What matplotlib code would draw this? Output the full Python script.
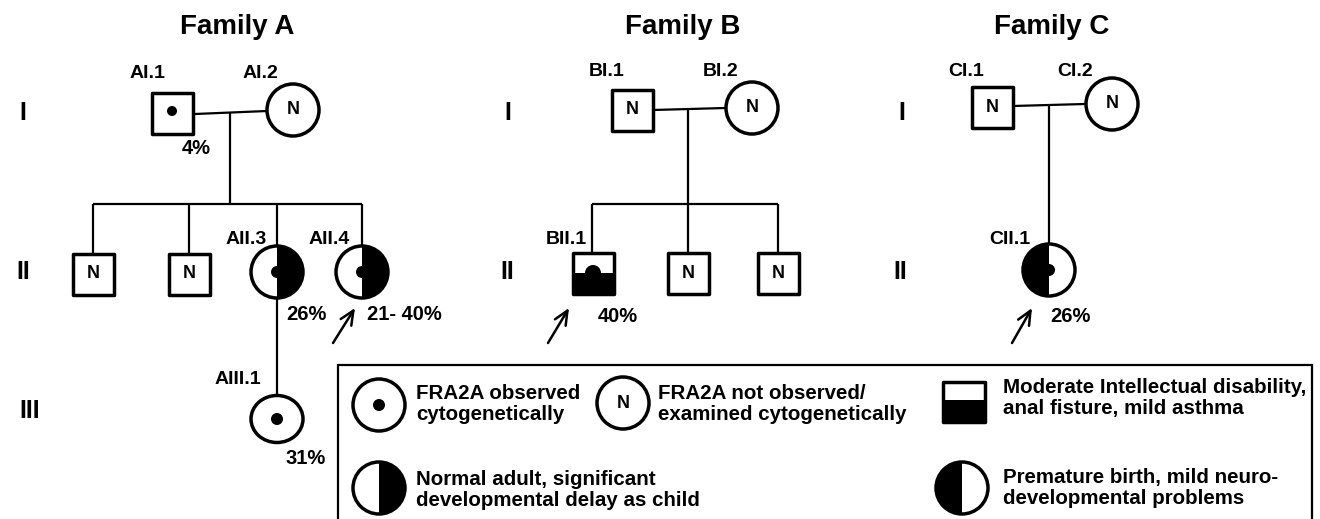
import matplotlib.pyplot as plt
from matplotlib.patches import Rectangle, Circle, Wedge, Ellipse

plt.rcParams['font.family'] = ['Liberation Sans', 'DejaVu Sans']
plt.rcParams['font.weight'] = 'bold'

# pedigree data
families = ["Family A", "Family B", "Family C"]
ids = ["AI.1", "AI.2", "AII.1", "AII.2", "AII.3", "AII.4", "AIII.1",
       "BI.1", "BI.2", "BII.1", "BII.2", "BII.3",
       "CI.1", "CI.2", "CII.1"]
sex = ["M", "F", "M", "M", "F", "F", "F",
       "M", "F", "M", "M", "M",
       "M", "F", "F"]
# fra = FRA2A observed, N = not observed / not examined
fra2a = ["fra", "N", "N", "N", "fra", "fra", "fra",
         "N", "N", "fra", "N", "N",
         "N", "N", "fra"]
# phenotype: none, delay (right half), premature (left half), id (lower fill)
phenotype = ["none", "none", "none", "none", "delay", "delay", "none",
             "none", "none", "id", "none", "none",
             "none", "none", "premature"]
fra2a_pct = ["4%", "", "", "", "26%", "21- 40%", "31%",
             "", "", "40%", "", "",
             "", "", "26%"]
show_id = ["AI.1", "AI.2", "AII.3", "AII.4", "AIII.1", "BI.1", "BI.2", "BII.1",
           "CI.1", "CI.2", "CII.1"]
probands = ["AII.4", "BII.1", "CII.1"]

legend_items = [
    ("fra", "FRA2A observed\ncytogenetically"),
    ("N", "FRA2A not observed/\nexamined cytogenetically"),
    ("id", "Moderate Intellectual disability,\nanal fisture, mild asthma"),
    ("delay", "Normal adult, significant\ndevelopmental delay as child"),
    ("premature", "Premature birth, mild neuro-\ndevelopmental problems"),
]

# layout (pixel coordinates of the drawing)
pos = {
    "AI.1": (172, 113), "AI.2": (293, 110),
    "AII.1": (93, 274), "AII.2": (189, 274), "AII.3": (277, 272), "AII.4": (362, 272),
    "AIII.1": (277, 419),
    "BI.1": (632, 110), "BI.2": (752, 108),
    "BII.1": (593, 273), "BII.2": (688, 273), "BII.3": (778, 273),
    "CI.1": (992, 107), "CI.2": (1112, 104),
    "CII.1": (1049, 270),
}
id_pos = {
    "AI.1": (165, 73), "AI.2": (278, 73), "AII.3": (267, 240), "AII.4": (350, 240),
    "AIII.1": (261, 380), "BI.1": (624, 72), "BI.2": (738, 72), "BII.1": (587, 240),
    "CI.1": (984, 72), "CI.2": (1093, 72), "CII.1": (1030, 240),
}
pct_pos = {
    "AI.1": (182, 148), "AII.3": (286, 315), "AII.4": (367, 315), "AIII.1": (285, 458),
    "BII.1": (598, 316), "CII.1": (1050, 316),
}
arrow_pos = {
    "AII.4": ((333, 343), (355, 308)),
    "BII.1": ((548, 343), (569, 308)),
    "CII.1": ((1012, 343), (1032, 308)),
}
title_pos = [(237, 27), (683, 27), (1052, 27)]
gen_labels = [("I", 23, 113), ("II", 23, 272), ("III", 30, 411),
              ("I", 508, 113), ("II", 507, 272),
              ("I", 902, 113), ("II", 900, 272)]
lines = [
    [(195, 114), (267, 111)], [(230, 112), (230, 204)], [(93, 204), (362, 204)],
    [(93, 204), (93, 254)], [(189, 204), (189, 254)], [(277, 204), (277, 245)],
    [(362, 204), (362, 245)], [(277, 299), (277, 396)],
    [(653, 110), (725, 108)], [(688, 109), (688, 204)], [(592, 204), (778, 204)],
    [(592, 204), (592, 252)], [(688, 204), (688, 252)], [(778, 204), (778, 252)],
    [(1013, 106), (1085, 104)], [(1049, 105), (1049, 244)],
]

SQ = 41
R = 26
LW = 2.5


def draw_symbol(ax, x, y, s, status, pheno, ellipse_h=None):
    if s == "M":
        ax.add_patch(Rectangle((x - SQ / 2, y - SQ / 2), SQ, SQ, fc='white', ec='none', zorder=3))
        if pheno == "id":
            ax.add_patch(Rectangle((x - SQ / 2, y), SQ, SQ / 2, fc='black', ec='none', zorder=4))
            ax.add_patch(Circle((x, y), 8, fc='black', ec='none', zorder=4))
        elif status == "fra":
            ax.add_patch(Circle((x, y - 2), 5, fc='black', ec='none', zorder=4))
        ax.add_patch(Rectangle((x - SQ / 2, y - SQ / 2), SQ, SQ, fc='none', ec='black',
                               lw=LW, joinstyle='round', zorder=5))
    else:
        h = ellipse_h if ellipse_h else 2 * R
        ax.add_patch(Ellipse((x, y), 2 * R, h, fc='white', ec='none', zorder=3))
        if pheno == "delay":
            ax.add_patch(Wedge((x, y), R, -90, 90, fc='black', ec='none', zorder=4))
        elif pheno == "premature":
            ax.add_patch(Wedge((x, y), R, 90, 270, fc='black', ec='none', zorder=4))
        if status == "fra":
            ax.add_patch(Circle((x, y), 6, fc='black', ec='none', zorder=4))
        ax.add_patch(Ellipse((x, y), 2 * R, h, fc='none', ec='black', lw=LW, zorder=5))
    if status == "N" and pheno == "none":
        ax.text(x, y, "N", ha='center', va='center', fontsize=13, zorder=6)


fig = plt.figure(figsize=(13.2, 5.19), dpi=100)
ax = fig.add_axes([0, 0, 1, 1])
ax.set_xlim(0, 1320)
ax.set_ylim(519, 0)
ax.axis('off')

for name, (tx, ty) in zip(families, title_pos):
    ax.text(tx, ty, name, ha='center', va='center', fontsize=20)

for lab, gx, gy in gen_labels:
    ax.text(gx, gy, lab, ha='center', va='center', fontsize=18)

for seg in lines:
    (x0, y0), (x1, y1) = seg
    ax.plot([x0, x1], [y0, y1], color='black', lw=1.6, solid_capstyle='butt', zorder=2)

for i, pid in enumerate(ids):
    x, y = pos[pid]
    draw_symbol(ax, x, y, sex[i], fra2a[i], phenotype[i],
                ellipse_h=47 if pid == "AIII.1" else None)
    if pid in show_id:
        lx, ly = id_pos[pid]
        ax.text(lx, ly, pid, ha='right', va='center', fontsize=14)
    if fra2a_pct[i]:
        px, py = pct_pos[pid]
        ax.text(px, py, fra2a_pct[i], ha='left', va='center', fontsize=14.5)

for pid in probands:
    start, end = arrow_pos[pid]
    ax.annotate("", xy=end, xytext=start,
                arrowprops=dict(arrowstyle='->,head_length=1.0,head_width=0.45',
                                lw=1.8, color='black', shrinkA=0, shrinkB=0))

# legend box
ax.add_patch(Rectangle((338, 365), 974, 160, fc='white', ec='black', lw=1.6, zorder=1))
leg_sym = [(379, 405), (623, 403), (964, 402), (379, 488), (962, 488)]
leg_txt = [(416, 404), (658, 404), (1003, 398), (416, 490), (1003, 488)]
for (kind, label), (sx, sy), (tx, ty) in zip(legend_items, leg_sym, leg_txt):
    if kind == "fra":
        draw_symbol(ax, sx, sy, "F", "fra", "none")
    elif kind == "N":
        draw_symbol(ax, sx, sy, "F", "N", "none")
    elif kind == "id":
        ax.add_patch(Rectangle((sx - 21, sy - 20), 42, 40, fc='white', ec='none', zorder=3))
        ax.add_patch(Rectangle((sx - 21, sy - 2), 42, 22, fc='black', ec='none', zorder=4))
        ax.add_patch(Rectangle((sx - 21, sy - 20), 42, 40, fc='none', ec='black', lw=LW,
                               joinstyle='round', zorder=5))
    else:
        draw_symbol(ax, sx, sy, "F", "none", kind)
    ax.text(tx, ty, label, ha='left', va='center', fontsize=14.8, linespacing=1.18)

fig.savefig("out.png", dpi=100)
